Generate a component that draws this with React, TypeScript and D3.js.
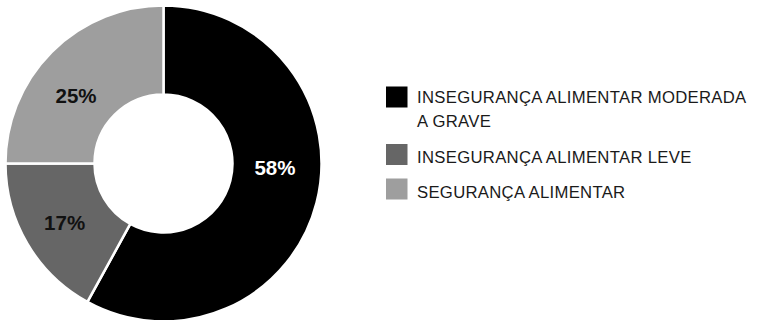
import React from "react";
import * as d3 from "d3";

const categories = [
  "INSEGURANÇA ALIMENTAR MODERADA A GRAVE",
  "INSEGURANÇA ALIMENTAR LEVE",
  "SEGURANÇA ALIMENTAR",
];
const values = [58, 17, 25];
const legendLines = [
  ["INSEGURANÇA ALIMENTAR MODERADA", "A GRAVE"],
  ["INSEGURANÇA ALIMENTAR LEVE"],
  ["SEGURANÇA ALIMENTAR"],
];
const colors = ["#000000", "#666666", "#9e9e9e"];
const labelColors = ["#ffffff", "#111111", "#111111"];
const labelShift = [
  [3, -23.5],
  [-2.5, 1.5],
  [-8.3, 11],
];

const W = 757;
const H = 320;
const cx = 163.5;
const cy = 163.5;
const outerR = 158;
const innerR = 69;

export default function App() {
  const pie = d3
    .pie<number>()
    .sort(null)
    .value((d) => d)(values);
  const arc = d3
    .arc<d3.PieArcDatum<number>>()
    .innerRadius(innerR)
    .outerRadius(outerR);
  const labelArc = d3
    .arc<d3.PieArcDatum<number>>()
    .innerRadius(112)
    .outerRadius(112);

  const legendY = [86.5, 144, 178.5];
  const legendBase = [16, 19.3, 19.3];

  return (
    <svg
      width={W}
      height={H}
      style={{ position: "absolute", left: 0, top: 0, background: "#fff" }}
      fontFamily="'Liberation Sans', Arial, sans-serif"
    >
      <g transform={`translate(${cx},${cy})`}>
        {pie.map((p, i) => (
          <path
            key={i}
            d={arc(p) || ""}
            fill={colors[i]}
            stroke="#ffffff"
            strokeWidth={2.5}
          />
        ))}
        {pie.map((p, i) => {
          const [x, y] = labelArc.centroid(p);
          return (
            <text
              key={"l" + i}
              x={x + labelShift[i][0]}
              y={y + labelShift[i][1]}
              textAnchor="middle"
              dominantBaseline="central"
              fontSize={20.5}
              fontWeight="bold"
              fill={labelColors[i]}
            >
              {values[i]}%
            </text>
          );
        })}
      </g>
      <g>
        {categories.map((c, i) => (
          <g key={c} transform={`translate(386,${legendY[i]})`}>
            <rect width={21.5} height={21} fill={colors[i]} />
            {legendLines[i].map((line, j) => (
              <text
                key={j}
                x={31}
                y={legendBase[i] + j * 24}
                fontSize={16.7}
                fill="#1a1a1a"
                letterSpacing={0.3}
              >
                {line}
              </text>
            ))}
          </g>
        ))}
      </g>
    </svg>
  );
}
